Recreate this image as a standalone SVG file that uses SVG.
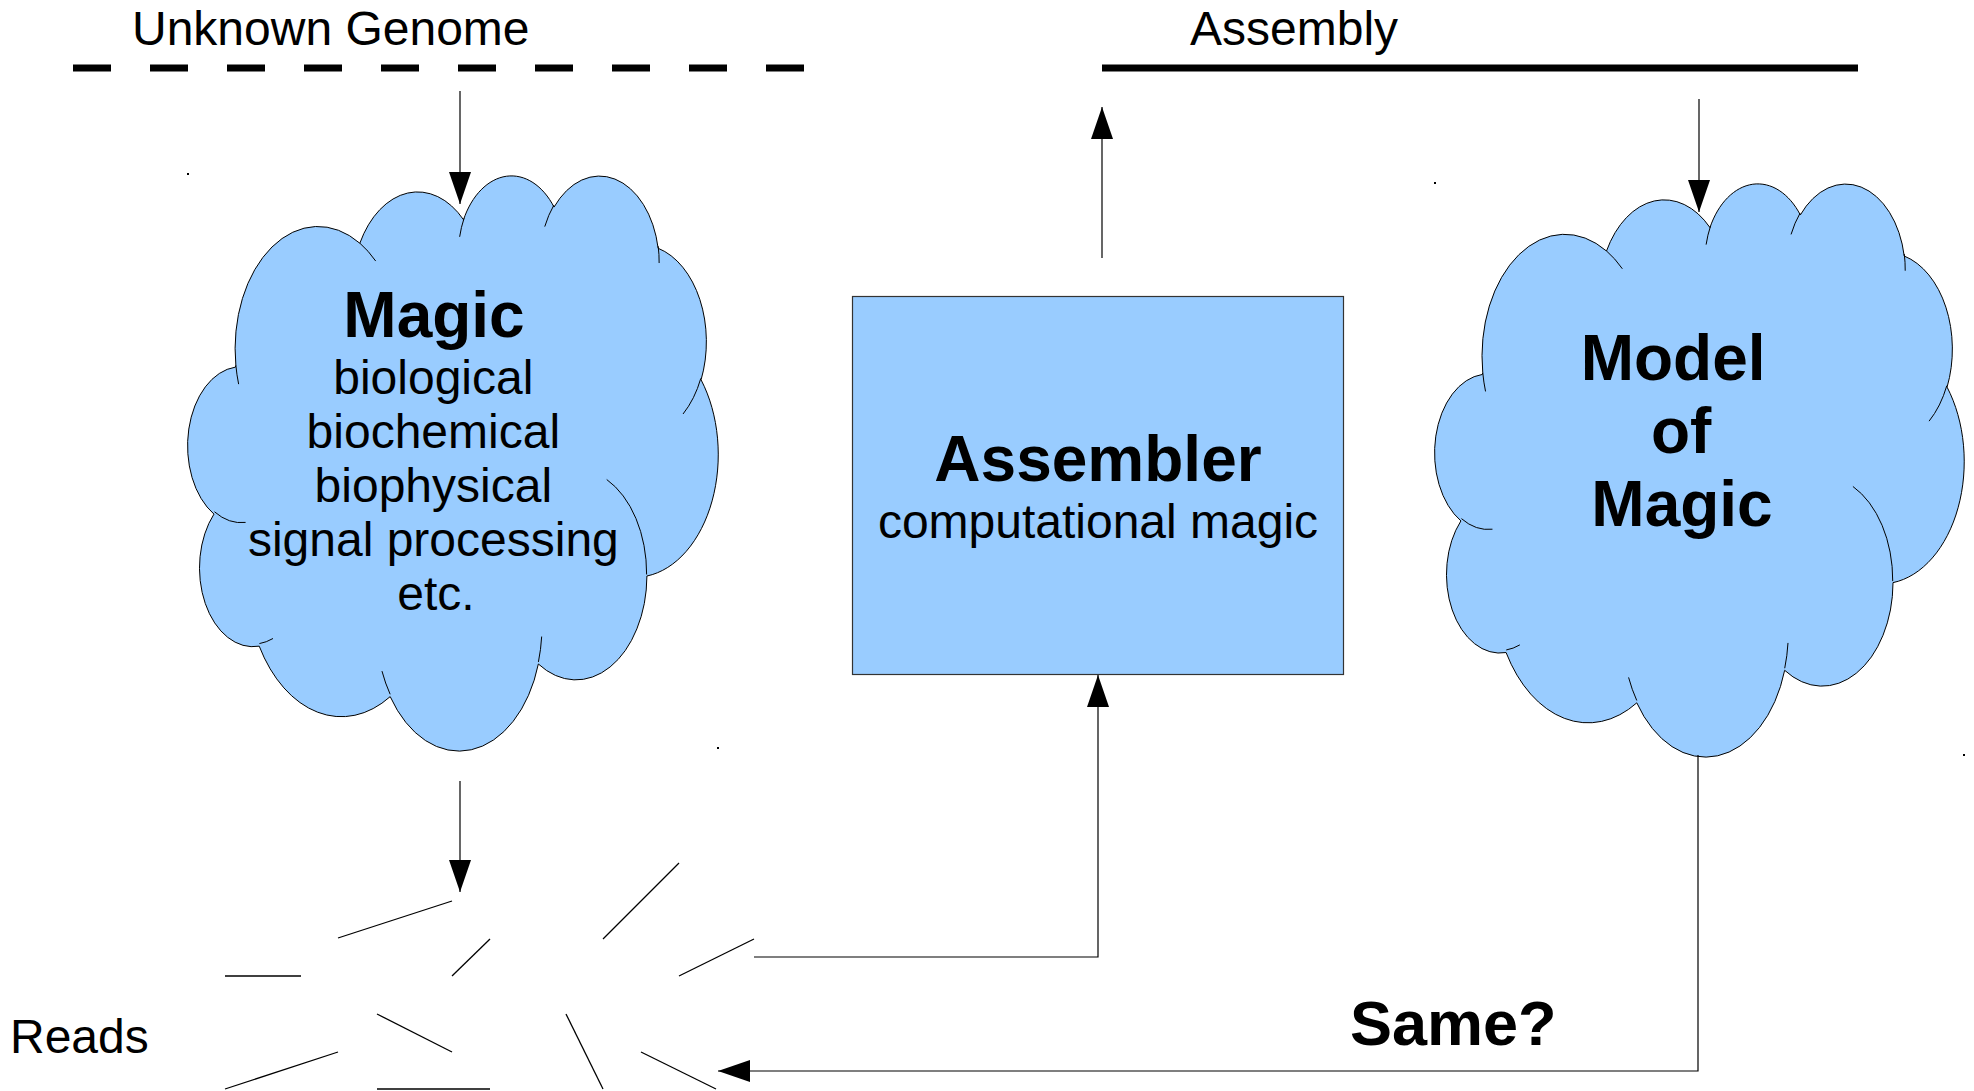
<svg xmlns="http://www.w3.org/2000/svg" width="1974" height="1091" viewBox="0 0 1974 1091">
<style>
text{font-family:"Liberation Sans",Arial,sans-serif;fill:#000}
.t48{font-size:48px}
.b64{font-size:64px;font-weight:bold}
.fill{fill:#99ccff;stroke:#000;stroke-width:1;vector-effect:non-scaling-stroke}
.inner{fill:none;stroke:#000;stroke-width:1;vector-effect:non-scaling-stroke}
.conn{fill:none;stroke:#000;stroke-width:1.2}
.read{stroke:#000;stroke-width:1.3;fill:none}
.dot{fill:#000}
</style>
<defs>
<marker id="ah" markerUnits="userSpaceOnUse" markerWidth="32" markerHeight="22" refX="32" refY="11" orient="auto" viewBox="0 0 32 22">
<path d="M0,0 L32,11 L0,22 Z" fill="#000"/>
</marker>
<path id="cloudOuter" class="fill" d="M3900 14370 A6753 9190 0 0 1 14005.7 5202.5 A5333 7267 0 0 1 22456.4 3434.4 A4365 5945 0 0 1 29835 2484.4 A4857 6595 0 0 1 38319.7 5580.4 A5333 7273 0 0 1 41820.1 15464.2 A6775 9220 0 0 1 37404.5 30204.3 A5785 7867 0 0 1 28555.8 36814.2 A6752 9215 0 0 1 16480.8 39266.3 A7720 10543 0 0 1 5805.1 35474.7 A4360 5918 0 0 1 2114.6 25551.9 A4345 5945 0 0 1 3865.2 14508.9 Z"/>
<path id="cloudInner" class="inner" d="M4693 26177 A4345 5945 0 0 1 2159.1 25379.4 M6928 34899 A4360 5918 0 0 1 5819.1 35280.6 M16478 39090 A6752 9215 0 0 1 15809.8 37349 M28827 34751 A6752 9215 0 0 1 28560.4 36660.3 M34129 22954 A5785 7867 0 0 1 37380.7 30089.9 M41798 15354 A5333 7273 0 0 1 40350.1 18029.9 M38324 5426 A4857 6595 0 0 1 38400.4 6689 M29078 3952 A4857 6595 0 0 1 29820.5 2338.7 M22141 4720 A4365 5945 0 0 1 22499.9 3330.8 M14000 5192 A6753 9190 0 0 1 15299.8 6540.7 M4127 15789 A6753 9190 0 0 1 3900.1 14372.8"/>
</defs>
<rect width="1974" height="1091" fill="#fff"/>

<g id="unknown-genome">
<text class="t48" x="132" y="45">Unknown Genome</text>
<line x1="73" y1="68" x2="805" y2="68" stroke="#000" stroke-width="7" stroke-dasharray="38 39"/>
</g>

<g id="assembly">
<text class="t48" x="1190" y="45">Assembly</text>
<line x1="1102" y1="68" x2="1858" y2="68" stroke="#000" stroke-width="7"/>
</g>

<g id="magic">
<g transform="translate(188,174) scale(0.012269,0.013310)">
<use href="#cloudOuter"/>
<use href="#cloudInner"/>
</g>
<rect class="dot" x="187" y="173" width="2" height="2"/>
<rect class="dot" x="717" y="747" width="2" height="2"/>
<text text-anchor="middle" x="434" y="337" class="b64">Magic</text>
<text text-anchor="middle" class="t48">
<tspan x="440" y="394">biological</tspan>
<tspan x="440" y="448">biochemical</tspan>
<tspan x="440" y="502">biophysical</tspan>
<tspan x="440" y="556">signal processing</tspan>
<tspan x="436" y="610">etc.</tspan>
</text>
</g>

<g id="assembler">
<rect x="852.5" y="296.5" width="491" height="378" fill="#99ccff" stroke="#333" stroke-width="1.2"/>
<text text-anchor="middle" x="1098" y="481" class="b64">Assembler</text>
<text text-anchor="middle" x="1098" y="538" class="t48">computational magic</text>
</g>

<g id="model-of-magic">
<g transform="translate(1435,182) scale(0.012245,0.013264)">
<use href="#cloudOuter"/>
<use href="#cloudInner"/>
</g>
<rect class="dot" x="1434" y="182" width="2" height="2"/>
<rect class="dot" x="1963" y="754" width="2" height="2"/>
<text text-anchor="middle" class="b64">
<tspan x="1682" y="380">Model</tspan>
<tspan x="1690" y="453">of</tspan>
<tspan x="1682" y="526">Magic</tspan>
</text>
</g>

<g id="reads">
<line class="read" x1="338" y1="938" x2="452" y2="901"/>
<line class="read" x1="225" y1="976" x2="301" y2="976"/>
<line class="read" x1="452" y1="976" x2="490" y2="939"/>
<line class="read" x1="603" y1="939" x2="679" y2="863"/>
<line class="read" x1="679" y1="976" x2="754" y2="939"/>
<line class="read" x1="377" y1="1014" x2="452" y2="1052"/>
<line class="read" x1="225" y1="1089" x2="338" y2="1052"/>
<line class="read" x1="377" y1="1089" x2="490" y2="1089"/>
<line class="read" x1="566" y1="1014" x2="603" y2="1089"/>
<line class="read" x1="641" y1="1052" x2="716" y2="1089"/>
<text class="t48" x="10" y="1053">Reads</text>
</g>

<g id="connectors">
<path class="conn" d="M460,91 V204" marker-end="url(#ah)"/>
<path class="conn" d="M460,781 V892" marker-end="url(#ah)"/>
<path class="conn" d="M754,957 H1098 V675" marker-end="url(#ah)"/>
<path class="conn" d="M1102,258 V107" marker-end="url(#ah)"/>
<path class="conn" d="M1699,99 V212" marker-end="url(#ah)"/>
<path class="conn" d="M1698,755 V1071 H718" marker-end="url(#ah)"/>
<text x="1350" y="1045" class="b64" style="font-size:63px">Same?</text>
</g>
</svg>
